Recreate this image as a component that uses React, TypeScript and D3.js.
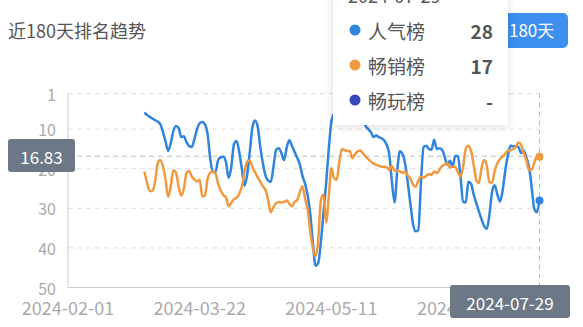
import React from "react";
import * as d3 from "d3";

const title = "近180天排名趋势";
const startDate = "2024-03-01";
const domainStart = "2024-02-01";
const domainEnd = "2024-07-29";
const xTickLabels = ["2024-02-01", "2024-03-22", "2024-05-11", "2024-06-30"];
const yTicks = [1, 10, 20, 30, 40, 50];
const seriesNames = ["人气榜", "畅销榜", "畅玩榜"];
const seriesColors = ["#2f84de", "#f0993f", "#3a45c2"];
const tooltipValues = ["28", "17", "-"];
const tooltipDate = "2024-07-29";
const crossValue = 16.83;

const popularity = [
  5.8, 6.4, 6.9, 7.3, 7.7, 8.1, 8.7, 10.6, 13, 15.5,
  13.5, 10.5, 9.2, 9.7, 12, 11.8, 13.3, 14.3, 14.5, 12.5,
  10, 8.5, 8.2, 8.8, 11.3, 17.5, 20.8, 20.8, 17.8, 17.1,
  17, 18.5, 22.3, 19.5, 13.8, 13, 15.8, 20, 24.3, 21.6,
  15.8, 9.6, 7.8, 9.3, 14.5, 18.7, 21.8, 23, 23.3, 19.5,
  15.2, 14.8, 16, 17.8, 14.8, 12.8, 14.2, 15.7, 17.2, 18.9,
  21.8, 23.8, 26.8, 31.5, 39, 44.5, 43.8, 38.5, 31, 23.7,
  15, 8, 6, 5, 4.5, 5, 6, 5.5, 4.5, 5,
  6.5, 7, 6, 7, 9.2, 10, 10.8, 12, 11.6, 12,
  12.3, 12.8, 14, 16.5, 23.5, 28.5, 20.5, 15.6, 16.3, 18.8,
  23.5, 29, 34, 35.8, 35.5, 23.5, 14.5, 14.2, 15, 15.2,
  12.7, 15, 14.8, 15.2, 17, 19, 18, 19.5, 16.8, 16.8,
  22, 28.3, 28.5, 23.3, 23.8, 26.5, 28.7, 30.8, 32.8, 34.5,
  35.2, 31.5, 25.8, 24.2, 26.5, 28.3, 25.5, 20.5, 16.6, 14.2,
  14.3, 14.3, 14.5, 16, 15.4, 17.2, 19.5, 24.5, 30, 31,
  28,
];

const sales = [
  20.7, 23.5, 25.6, 25.7, 23.5, 18.8, 17.8, 19.3, 22.5, 27.1,
  24.5, 20.4, 21, 24.5, 26.8, 25, 21, 20.6, 22, 22.7,
  23.2, 22.8, 27, 26.7, 22.5, 21, 20.7, 21.2, 23.8, 25.5,
  26.7, 27.3, 29.5, 28.6, 27.7, 27.3, 26.3, 24.5, 20.8, 18.2,
  17.9, 19.5, 20.9, 22.2, 23.3, 24.4, 25.4, 28, 31, 29.7,
  28.7, 28.4, 28.5, 28.4, 28, 28.8, 29.5, 28.4, 27.9, 26,
  24.4, 27.5, 30.3, 36, 40.2, 42.1, 38, 28, 26.5, 33.5,
  27, 19.8, 22.4, 22.8, 18.3, 15, 15.3, 15.5, 15.5, 17.3,
  16.3, 15.6, 15.4, 16.2, 16.9, 17.6, 18.2, 18.7, 19, 19.3,
  19.5, 19.5, 19.6, 20.3, 19.3, 20.5, 20.5, 20.6, 21.1, 20.7,
  21.8, 22.5, 24, 24.6, 23, 22, 22.3, 21.8, 21.4, 21.5,
  20.7, 21.1, 20.3, 19.3, 19, 18.6, 19.7, 19.5, 19.5, 20.9,
  22, 19.5, 15, 14.2, 15.5, 19, 22.8, 23.6, 19.8, 17.8,
  19.2, 23.5, 23.5, 20.5, 18.6, 17.6, 16.9, 16.2, 15.5, 15.3,
  15, 14.4, 13.4, 14, 16, 17.8, 20.3, 20.3, 18.5, 17,
  17,
];

const W = 583;
const H = 327;
const FONT = "'Noto Sans CJK SC', 'Noto Sans', sans-serif";

const parse = d3.utcParse("%Y-%m-%d");

export default function App() {
  const left = 68;
  const right = 539.5;
  const top = 93.5;
  const bottom = 287.5;

  const x = d3.scaleUtc().domain([parse(domainStart)!, parse(domainEnd)!]).range([left, right]);
  const y = d3.scaleLinear().domain([1, 50]).range([top, bottom]);

  const start = parse(startDate)!;
  const toPoints = (arr: number[]) =>
    arr.map((v, i) => ({ d: d3.utcDay.offset(start, i), v }));
  const series = [toPoints(popularity), toPoints(sales)];

  const line = d3
    .line<{ d: Date; v: number }>()
    .x((p) => x(p.d))
    .y((p) => y(p.v))
    .curve(d3.curveMonotoneX);

  const tipDate = parse(tooltipDate)!;
  const cx = x(tipDate);
  const cy = y(crossValue);

  const tipLeft = 333;
  const tipRight = 508;

  return (
    <svg
      width={W}
      height={H}
      style={{ position: "absolute", left: 0, top: 0, background: "#fff" }}
      fontFamily={FONT}
    >
      <defs>
        <filter id="shadow" x="-20%" y="-20%" width="140%" height="140%">
          <feDropShadow dx="0" dy="1" stdDeviation="4" floodColor="#000" floodOpacity="0.15" />
        </filter>
      </defs>

      <text x={8} y={38} fontSize={18} fill="#555">
        {title}
      </text>

      <rect x={470} y={13} width={98} height={35} rx={5} fill="#3d8ff0" />
      <text x={509} y={37} fontSize={17} fill="#fff">
        180天
      </text>

      {yTicks.map((t) => (
        <line
          key={"g" + t}
          x1={left}
          x2={right}
          y1={y(t)}
          y2={y(t)}
          stroke={t === 50 ? "#ccc" : "#e0e0e0"}
          strokeWidth={1}
          strokeDasharray={t === 50 ? undefined : "5,4"}
        />
      ))}
      <line x1={left} x2={left} y1={top} y2={bottom} stroke="#ccc" strokeWidth={1} />

      {yTicks.map((t) => (
        <text
          key={"yl" + t}
          x={56}
          y={y(t)}
          textAnchor="end"
          dominantBaseline="central"
          fontSize={16}
          fill="#aaa"
        >
          {t}
        </text>
      ))}

      {xTickLabels.map((s) => (
        <text
          key={s}
          x={x(parse(s)!)}
          y={315}
          textAnchor="middle"
          fontSize={18}
          fill="#aaa"
        >
          {s}
        </text>
      ))}

      <line x1={cx} x2={cx} y1={top} y2={bottom} stroke="#bbb" strokeDasharray="5,4" />
      <line x1={left} x2={right} y1={cy} y2={cy} stroke="#bbb" strokeDasharray="5,4" />

      {series.map((pts, i) => (
        <path
          key={"s" + i}
          d={line(pts) || ""}
          fill="none"
          stroke={seriesColors[i]}
          strokeWidth={2.5}
          strokeLinejoin="round"
        />
      ))}
      {series.map((pts, i) => (
        <circle
          key={"c" + i}
          cx={x(pts[pts.length - 1].d)}
          cy={y(pts[pts.length - 1].v)}
          r={4}
          fill={seriesColors[i]}
        />
      ))}

      <rect x={8} y={139} width={67} height={33} rx={3} fill="#6c7886" />
      <text x={41.5} y={156} textAnchor="middle" dominantBaseline="central" fontSize={17} fill="#fff">
        {crossValue.toFixed(2)}
      </text>

      <rect x={450} y={285} width={120} height={33} rx={3} fill="#6c7886" />
      <text x={510} y={302} textAnchor="middle" dominantBaseline="central" fontSize={17} fill="#fff">
        {tooltipDate}
      </text>

      <g>
        <rect
          x={tipLeft}
          y={-10}
          width={tipRight - tipLeft}
          height={135}
          rx={4}
          fill="#fff"
          filter="url(#shadow)"
        />
        <text x={348} y={3} fontSize={18} fill="#555">
          {tooltipDate}
        </text>
        {seriesNames.map((n, i) => (
          <g key={n}>
            <circle cx={355} cy={30 + i * 35} r={5.5} fill={seriesColors[i]} />
            <text x={368} y={30 + i * 35} dominantBaseline="central" fontSize={19} fill="#555">
              {n}
            </text>
            <text
              x={493}
              y={30 + i * 35}
              dominantBaseline="central"
              textAnchor="end"
              fontSize={19}
              fontWeight="bold"
              fill="#555"
            >
              {tooltipValues[i]}
            </text>
          </g>
        ))}
      </g>
    </svg>
  );
}
